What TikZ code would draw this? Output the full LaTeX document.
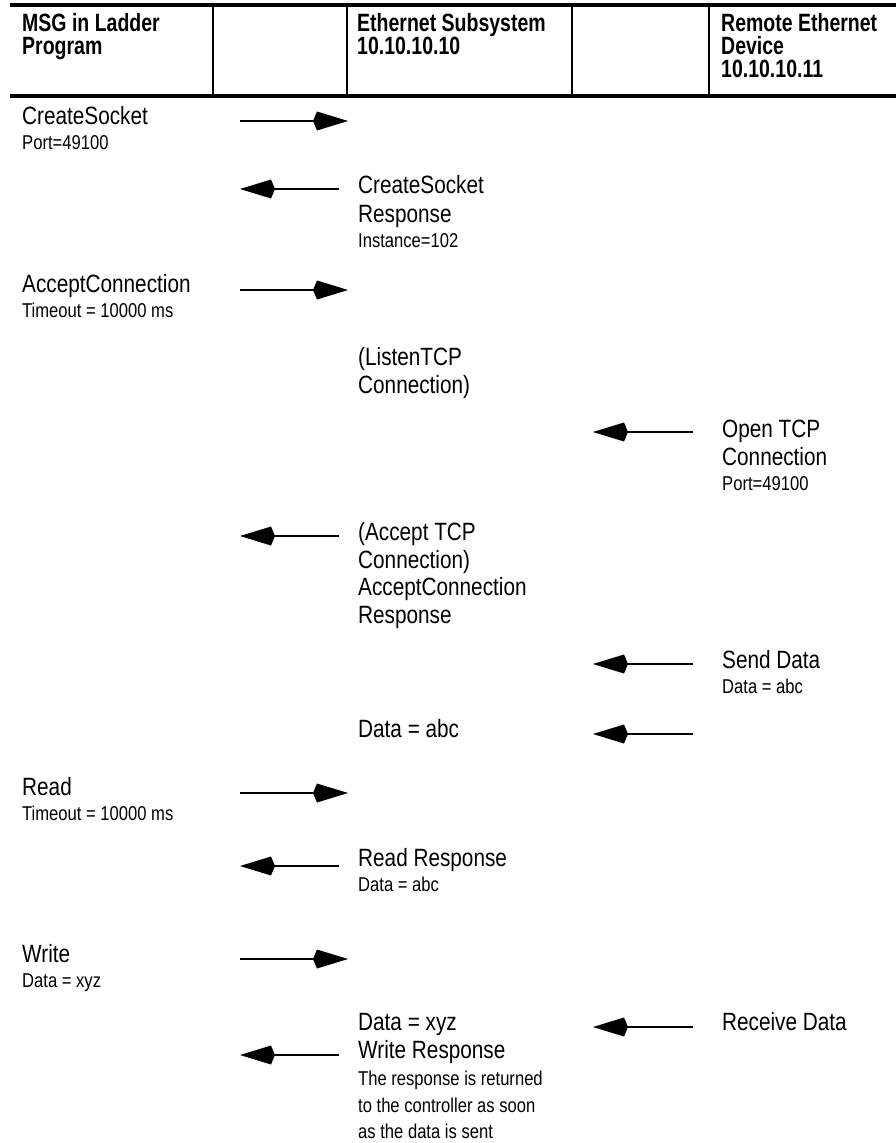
\documentclass[tikz,border=0pt]{standalone}
\usepackage{fontspec}
\setmainfont{Liberation Sans}[FakeStretch=0.83]
\newfontfamily\headfont{Liberation Sans}[FakeStretch=0.78]
\usetikzlibrary{arrows.meta}

\begin{document}
\begin{tikzpicture}[x=1pt,y=-1pt,
  big/.style={anchor=base west,inner sep=0pt,font=\fontsize{25}{28}\selectfont},
  small/.style={anchor=base west,inner sep=0pt,font=\fontsize{20}{23}\selectfont},
  head/.style={anchor=base west,inner sep=0pt,font=\headfont\bfseries\fontsize{25}{28}\selectfont},
  msg/.style={line width=2pt,-{Kite[length=35pt,width=19pt,inset=4pt]}},
  rule/.style={line width=3.5pt},
  sep/.style={line width=1.8pt}]
\useasboundingbox (0,0) rectangle (896,1143);
% header
\coordinate (tl) at (10,5);
\coordinate (tr) at (896,5);
\coordinate (bl) at (10,96);
\coordinate (br) at (896,96);
\draw[rule] (tl) -- (tr);
\draw[rule] (bl) -- (br);
\foreach \xx [count=\i] in {213,347,572,709} {
  \coordinate (sept\i) at (\xx,5);
  \coordinate (sepb\i) at (\xx,96);
  \draw[sep] (sept\i) -- (sepb\i);
}
\node[head] (hmsga) at (22,31) {MSG in Ladder};
\node[head] (hmsgb) at (22,54) {Program};
\node[head] (hetha) at (357,31) {Ethernet Subsystem};
\node[head] (hethb) at (357,54) {10.10.10.10};
\node[head] (hrema) at (721,31) {Remote Ethernet};
\node[head] (hremb) at (721,54) {Device};
\node[head] (hremc) at (721,77) {10.10.10.11};
% ladder program column
\node[big] (crsock) at (22,124) {CreateSocket};
\node[small] (crport) at (22,149) {Port=49100};
\node[big] (acconn) at (22,292) {AcceptConnection};
\node[small] (actime) at (22,317) {Timeout = 10000 ms};
\node[big] (rdmsg) at (22,795) {Read};
\node[small] (rdtime) at (22,820) {Timeout = 10000 ms};
\node[big] (wrmsg) at (22,962) {Write};
\node[small] (wrdata) at (22,987) {Data = xyz};
% ethernet subsystem column
\node[big] (crrespa) at (358,193) {CreateSocket};
\node[big] (crrespb) at (358,222) {Response};
\node[small] (crinst) at (358,247) {Instance=102};
\node[big] (lsta) at (358,365) {(ListenTCP};
\node[big] (lstb) at (358,393) {Connection)};
\node[big] (acca) at (358,540) {(Accept TCP};
\node[big] (accb) at (358,568) {Connection)};
\node[big] (accc) at (358,595) {AcceptConnection};
\node[big] (accd) at (358,623) {Response};
\node[big] (ethdata) at (358,737) {Data = abc};
\node[big] (rdresp) at (358,866) {Read Response};
\node[small] (rdrdata) at (358,891) {Data = abc};
\node[big] (wrxyz) at (358,1030) {Data = xyz};
\node[big] (wrresp) at (358,1058) {Write Response};
\node[small] (wrnotea) at (358,1085) {The response is returned};
\node[small] (wrnoteb) at (358,1112) {to the controller as soon};
\node[small] (wrnotec) at (358,1138) {as the data is sent};
% remote device column
\node[big] (opena) at (722,437) {Open TCP};
\node[big] (openb) at (722,465) {Connection};
\node[small] (openport) at (722,490) {Port=49100};
\node[big] (senda) at (722,668) {Send Data};
\node[small] (sendb) at (722,693) {Data = abc};
\node[big] (recv) at (722,1030) {Receive Data};
% messages
\foreach \nm/\xa/\xb/\yy in {m1/240/348/121, m2/339/240/189, m3/240/348/290,
    m4/693/593/432, m5/339/240/536, m6/693/593/664, m7/693/593/734,
    m8/240/348/793, m9/339/240/866, m10/240/348/959, m11/693/593/1027,
    m12/339/240/1055} {
  \coordinate (\nm s) at (\xa,\yy);
  \coordinate (\nm e) at (\xb,\yy);
  \draw[msg] (\nm s) -- (\nm e);
}
\end{tikzpicture}
\end{document}
